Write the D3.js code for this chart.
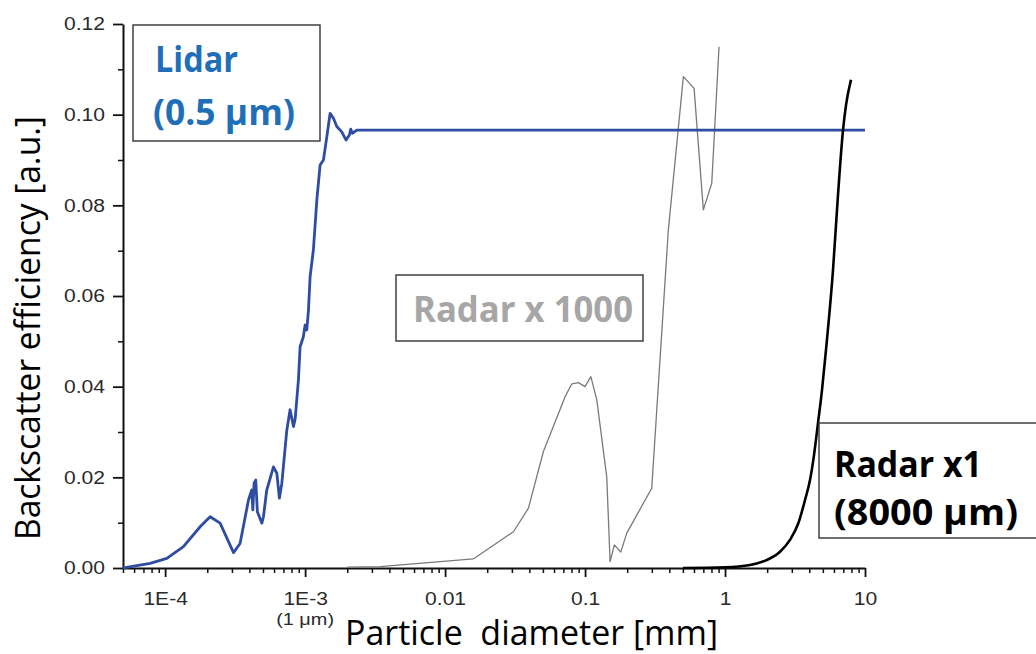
<!DOCTYPE html>
<html lang="en">
<head>
<meta charset="UTF-8">
<title>Backscatter efficiency</title>
<script src="https://d3js.org/d3.v7.min.js"></script>
<style>
  body { margin: 0; background: #fff; }
  svg { display: block; }
</style>
</head>
<body>
<div id="chart"></div>
<script>
// particle diameter [mm] and backscatter efficiency [a.u.]
const lidarD = [5.0e-5, 5.18e-5, 7.81e-5, 1.028e-4, 1.351e-4, 1.778e-4, 2.096e-4, 2.47e-4, 3.08e-4, 3.43e-4,
  3.94e-4, 4.16e-4, 4.23e-4, 4.32e-4, 4.44e-4, 4.56e-4, 4.91e-4, 5.04e-4, 5.32e-4, 5.94e-4,
  6.28e-4, 6.55e-4, 6.82e-4, 7.40e-4, 7.81e-4, 8.26e-4, 8.50e-4, 8.96e-4, 9.21e-4, 9.72e-4,
  1.0e-3, 1.028e-3, 1.057e-3, 1.086e-3, 1.146e-3, 1.213e-3, 1.280e-3, 1.352e-3, 1.429e-3, 1.509e-3,
  1.594e-3, 1.684e-3, 1.828e-3, 1.963e-3, 2.072e-3, 2.119e-3, 2.176e-3, 2.340e-3, 10]
const lidarY = [0, 0.00007, 0.00104, 0.00214, 0.0047, 0.0091, 0.0113, 0.0099, 0.0034, 0.0054,
  0.0150, 0.0172, 0.0128, 0.0187, 0.0194, 0.0124, 0.0099, 0.0113, 0.0172, 0.0223,
  0.0209, 0.0154, 0.0187, 0.0304, 0.0349, 0.0312, 0.0330, 0.0415, 0.0488, 0.0510,
  0.0536, 0.0525, 0.0569, 0.0643, 0.0702, 0.0812, 0.0889, 0.0900, 0.0951, 0.1003,
  0.0992, 0.0974, 0.0962, 0.0944, 0.0955, 0.0968, 0.0959, 0.0966, 0.0966]

const radar1000D = [0.002, 0.00343, 0.0159, 0.0308, 0.0394, 0.0504, 0.0720, 0.0804, 0.0896, 0.1,
  0.110, 0.1213, 0.1429, 0.151, 0.162, 0.180, 0.1986, 0.2995, 0.3936, 0.504,
  0.601, 0.700, 0.804, 0.906]
const radar1000Y = [0.0002, 0.0003, 0.0020, 0.0080, 0.0132, 0.0257, 0.0378, 0.0406, 0.0409, 0.0400,
  0.0422, 0.0371, 0.0201, 0.0014, 0.0051, 0.0035, 0.0077, 0.0176, 0.0746, 0.1084,
  0.1058, 0.0790, 0.0849, 0.1150]

const radar1D = [0.5, 1, 1.509, 1.986, 2.471, 2.912, 3.339, 3.728, 4.047, 4.322,
  4.617, 4.931, 5.264, 5.907, 6.414, 6.965, 7.316, 7.943]
const radar1Y = [0, 0.00015, 0.00066, 0.00176, 0.0036, 0.0062, 0.00986, 0.0150, 0.0194, 0.0249,
  0.0320, 0.0393, 0.0481, 0.0657, 0.0823, 0.0966, 0.1021, 0.1077]

const xTickVals = [1e-4, 1e-3, 1e-2, 1e-1, 1, 10]
const xTickLabels = ["1E-4", "1E-3", "0.01", "0.1", "1", "10"]
const yTickVals = [0, 0.02, 0.04, 0.06, 0.08, 0.10, 0.12]
const yTickLabels = ["0.00", "0.02", "0.04", "0.06", "0.08", "0.10", "0.12"]
const yMinorVals = [0.01, 0.03, 0.05, 0.07, 0.09, 0.11]

const width = 1036
const height = 654
const mLeft = 123, mRight = 865, mBottom = 568, mTop = 24

const svg = d3.select("#chart").append("svg")
  .attr("width", width)
  .attr("height", height)

const x = d3.scaleLog().domain([5e-5, 10]).range([mLeft, mRight])
const y = d3.scaleLinear().domain([0, 0.12]).range([mBottom, mTop])

// minor ticks on the log axis: 2..9 of every decade inside the domain
const xMinor = []
for (let e = -5; e <= 0; e++) {
  for (let m = 2; m <= 9; m++) {
    const v = m * Math.pow(10, e)
    if (v >= 5e-5 && v < 10) xMinor.push(v)
  }
}

const tickFont = "'Liberation Sans', Arial, sans-serif"

// the original figure is stretched sideways, so widen the small labels a bit
function widen(sel) {
  sel.each(function() {
    const w = this.getComputedTextLength()
    d3.select(this).attr("textLength", w * 1.17).attr("lengthAdjust", "spacingAndGlyphs")
  })
}

// x axis
svg.append("g")
  .attr("transform", "translate(0," + mBottom + ")")
  .call(d3.axisBottom(x).tickValues(xMinor).tickSize(5).tickSizeOuter(0).tickFormat(""))
  .call(g => g.select(".domain").remove())
  .call(g => g.selectAll("line").attr("stroke", "#111").attr("stroke-width", 1.5))

svg.append("g")
  .attr("class", "xAxis")
  .attr("transform", "translate(0," + mBottom + ")")
  .call(d3.axisBottom(x).tickValues(xTickVals).tickSize(9).tickSizeOuter(0).tickPadding(15)
    .tickFormat((d, i) => xTickLabels[i]))
  .call(g => g.select(".domain").attr("stroke", "#111").attr("stroke-width", 2))
  .call(g => g.selectAll("line").attr("stroke", "#111").attr("stroke-width", 1.8))
  .call(g => g.selectAll("text").attr("fill", "#2a2a2a").style("font-family", tickFont).style("font-size", "18px").call(widen))

svg.append("text")
  .attr("x", x(1e-3))
  .attr("y", 625)
  .attr("text-anchor", "middle")
  .attr("fill", "#2a2a2a")
  .style("font-family", tickFont)
  .style("font-size", "17px")
  .text("(1 μm)")
  .call(widen)

// y axis
svg.append("g")
  .attr("transform", "translate(" + mLeft + ",0)")
  .call(d3.axisLeft(y).tickValues(yMinorVals).tickSize(5).tickSizeOuter(0).tickFormat(""))
  .call(g => g.select(".domain").remove())
  .call(g => g.selectAll("line").attr("stroke", "#111").attr("stroke-width", 1.5))

svg.append("g")
  .attr("class", "yAxis")
  .attr("transform", "translate(" + mLeft + ",0)")
  .call(d3.axisLeft(y).tickValues(yTickVals).tickSize(10).tickSizeOuter(0).tickPadding(8)
    .tickFormat((d, i) => yTickLabels[i]))
  .call(g => g.select(".domain").attr("stroke", "#111").attr("stroke-width", 2))
  .call(g => g.selectAll("line").attr("stroke", "#111").attr("stroke-width", 1.8))
  .call(g => g.selectAll("text").attr("fill", "#2a2a2a").style("font-family", tickFont).style("font-size", "18px").call(widen))

// axis titles
const titleFont = "'Open Sans', 'Noto Sans', sans-serif"
svg.append("text")
  .attr("transform", "translate(40,328) rotate(-90)")
  .attr("text-anchor", "middle")
  .attr("textLength", 424)
  .attr("lengthAdjust", "spacingAndGlyphs")
  .style("font-family", titleFont)
  .style("font-size", "35px")
  .attr("fill", "#000")
  .text("Backscatter efficiency [a.u.]")

svg.append("text")
  .attr("x", 345)
  .attr("y", 645)
  .attr("textLength", 373)
  .attr("lengthAdjust", "spacingAndGlyphs")
  .style("font-family", titleFont)
  .style("font-size", "34px")
  .style("white-space", "pre")
  .attr("fill", "#000")
  .text("Particle  diameter [mm]")

// curves
const line = d3.line().x(d => x(d[0])).y(d => y(d[1]))

svg.append("path")
  .datum(d3.zip(radar1000D, radar1000Y))
  .attr("fill", "none")
  .attr("stroke", "#7a7a7a")
  .attr("stroke-width", 1.3)
  .attr("stroke-linejoin", "round")
  .attr("d", line)

svg.append("path")
  .datum(d3.zip(lidarD, lidarY))
  .attr("fill", "none")
  .attr("stroke", "#2f4ca3")
  .attr("stroke-width", 2.8)
  .attr("stroke-linejoin", "round")
  .attr("d", line)

svg.append("path")
  .datum(d3.zip(radar1D, radar1Y))
  .attr("fill", "none")
  .attr("stroke", "#000")
  .attr("stroke-width", 2.6)
  .attr("stroke-linejoin", "round")
  .attr("d", line.curve(d3.curveMonotoneX))

// label boxes
function box(bx, by, bw, bh) {
  svg.append("rect")
    .attr("x", bx).attr("y", by)
    .attr("width", bw).attr("height", bh)
    .attr("fill", "#fff")
    .attr("stroke", "#333")
    .attr("stroke-width", 1.4)
}
function label(tx, ty, txt, color, len) {
  svg.append("text")
    .attr("x", tx).attr("y", ty)
    .attr("textLength", len)
    .attr("lengthAdjust", "spacingAndGlyphs")
    .attr("fill", color)
    .style("font-family", titleFont)
    .style("font-weight", "bold")
    .style("font-size", "35px")
    .text(txt)
}

box(133, 25, 187, 116)
label(155, 72, "Lidar", "#1f6fb8", 83)
label(153, 125, "(0.5 μm)", "#1f6fb8", 142)

box(396, 275, 247, 66)
label(413, 322, "Radar x 1000", "#a6a6a6", 220)

box(819, 423, 260, 115)
label(834, 477, "Radar x1", "#000", 148)
label(834, 525, "(8000 μm)", "#000", 184)
</script>
</body>
</html>
